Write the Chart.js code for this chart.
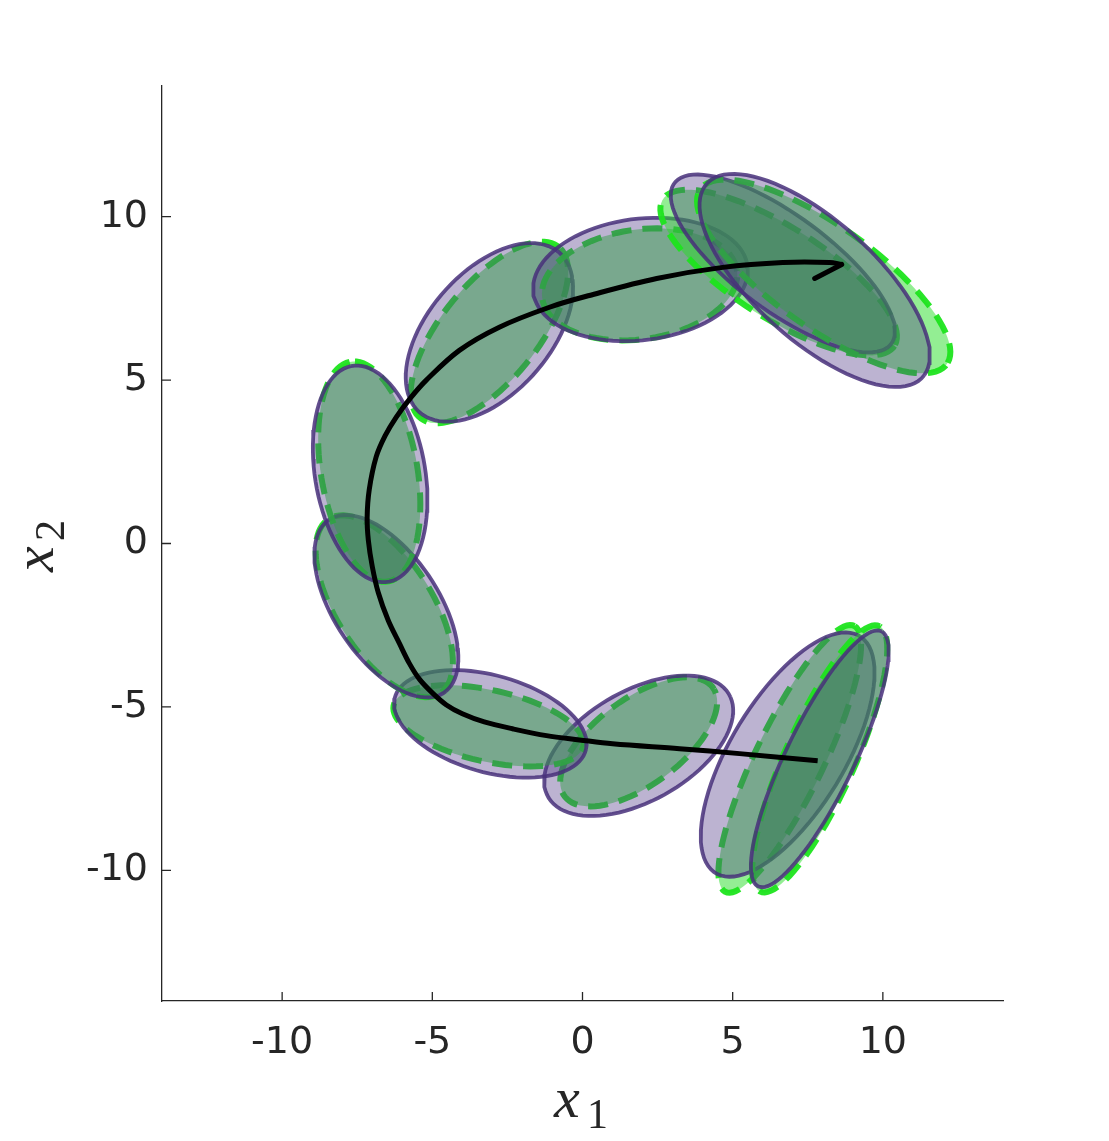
<!DOCTYPE html>
<html>
<head>
<meta charset="utf-8">
<script src="https://cdn.jsdelivr.net/npm/chart.js@4.4.1/dist/chart.umd.min.js"></script>
<style>
  html, body { margin: 0; padding: 0; background: #fff; }
  canvas { display: block; }
</style>
</head>
<body>
<canvas id="chart" width="1109" height="1141"></canvas>
<script>
// axes
const axisMin = -14;
const axisMax = 14;
const tickValues = [-10, -5, 0, 5, 10];

// purple ellipses: centre, semi axes, tilt of the long axis (deg)
const purpleCx = [6.83, 7.90, 1.87, -3.07, -6.53, -7.07, -3.10, 1.93, 6.67, 7.73];
const purpleCy = [-6.46, -6.59, -6.19, -5.52, -1.92, 2.13, 6.46, 8.08, 8.57, 8.05];
const purpleA = [4.35, 4.41, 3.40, 3.28, 3.27, 3.36, 3.38, 3.59, 4.37, 4.66];
const purpleB = [1.85, 1.12, 1.72, 1.49, 1.69, 1.83, 1.95, 1.86, 1.50, 1.90];
const purpleAng = [55.6, 62, 26, -13.8, -52.6, 101, 43.9, 6, -33.6, -38.5];

// green (dashed) ellipses
const greenCx = [6.90, 7.90, 1.87, -3.13, -6.60, -7.10, -3.10, 1.90, 6.53, 8.03];
const greenCy = [-6.59, -6.59, -6.07, -5.58, -1.92, 2.20, 6.46, 7.93, 8.29, 8.17];
const greenA = [4.60, 4.52, 2.98, 3.22, 3.25, 3.42, 3.49, 3.27, 4.46, 4.90];
const greenB = [1.12, 1.15, 1.36, 1.10, 1.55, 1.60, 1.55, 1.68, 1.43, 1.60];
const greenAng = [62, 63.8, 32.7, -11, -54, 101, 47.5, 7, -29.7, -32.6];

// black path, start bottom right, ends at the arrow
const pathX = [7.83, 5.23, 3.23, 1.00, -0.10, -1.20, -2.33, -3.27, -4.00, -4.53, -5.00, -5.43, -5.77, -6.10, -6.47, -6.80, -7.00, -7.13, -7.17, -7.10, -6.87, -6.57, -6.20, -5.73, -5.20, -4.10, -2.77, -1.10, 0.23, 2.47, 4.67, 6.67, 8.23, 8.63];
const pathY = [-6.65, -6.43, -6.28, -6.13, -6.01, -5.88, -5.67, -5.46, -5.21, -4.94, -4.57, -4.15, -3.66, -3.05, -2.35, -1.50, -0.70, 0.10, 0.80, 1.65, 2.65, 3.30, 3.87, 4.45, 5.00, 5.91, 6.62, 7.23, 7.59, 8.11, 8.45, 8.60, 8.60, 8.54];
const arrowX = [8.63, 7.73];
const arrowY = [8.54, 8.11];

function ellipsePoints(cx, cy, a, b, angDeg) {
    const th = angDeg * Math.PI / 180;
    const pts = [];
    for (let k = 0; k <= 90; k++) {
        const t = k * 2 * Math.PI / 90;
        const u = a * Math.cos(t);
        const v = b * Math.sin(t);
        pts.push({
            x: cx + u * Math.cos(th) - v * Math.sin(th),
            y: cy + u * Math.sin(th) + v * Math.cos(th)
        });
    }
    return pts;
}

const toPoints = (xs, ys) => xs.map((x, i) => ({x: x, y: ys[i]}));

const datasets = [];

// each green ellipse is drawn just before its purple partner, pair by pair
greenCx.forEach((cx, i) => {
    datasets.push({
        data: ellipsePoints(cx, greenCy[i], greenA[i], greenB[i], greenAng[i]),
        fill: 'shape',
        backgroundColor: 'rgba(40, 222, 40, 0.5)',
        borderColor: 'rgba(30, 228, 30, 0.95)',
        borderWidth: 6,
        borderDash: [20, 11],
        pointRadius: 0,
        tension: 0,
        order: 100 - 2 * i
    });
    datasets.push({
        data: ellipsePoints(purpleCx[i], purpleCy[i], purpleA[i], purpleB[i], purpleAng[i]),
        fill: 'shape',
        backgroundColor: 'rgba(80, 55, 135, 0.38)',
        borderColor: 'rgba(72, 48, 122, 0.85)',
        borderWidth: 3.8,
        pointRadius: 0,
        tension: 0,
        order: 99 - 2 * i
    });
});

datasets.push({
    data: toPoints(pathX, pathY),
    fill: false,
    borderColor: '#000',
    borderWidth: 5,
    pointRadius: 0,
    tension: 0.35,
    order: 1
});
datasets.push({
    data: toPoints(arrowX, arrowY),
    fill: false,
    borderColor: '#000',
    borderWidth: 5,
    pointRadius: 0,
    borderCapStyle: 'round',
    order: 1
});

// MATLAB style ticks pointing into the plot
const inwardTicks = {
    id: 'inwardTicks',
    afterDatasetsDraw(chart) {
        const {ctx, chartArea, scales} = chart;
        ctx.save();
        ctx.strokeStyle = '#262626';
        ctx.lineWidth = 1.3;
        ctx.beginPath();
        tickValues.forEach(v => {
            const px = scales.x.getPixelForValue(v);
            ctx.moveTo(px, chartArea.bottom);
            ctx.lineTo(px, chartArea.bottom - 9);
            const py = scales.y.getPixelForValue(v);
            ctx.moveTo(chartArea.left, py);
            ctx.lineTo(chartArea.left + 9, py);
        });
        ctx.stroke();
        ctx.restore();
    }
};

// x1 / x2 titles with subscripts
const axisTitles = {
    id: 'axisTitles',
    afterDraw(chart) {
        const ctx = chart.ctx;
        ctx.save();
        ctx.fillStyle = '#262626';
        ctx.textBaseline = 'alphabetic';
        ctx.textAlign = 'left';

        ctx.font = 'italic 58px "Liberation Serif"';
        ctx.fillText('x', 554, 1117);
        ctx.font = '42px "Liberation Serif"';
        ctx.fillText('1', 587, 1128);

        ctx.translate(53, 572);
        ctx.rotate(-Math.PI / 2);
        ctx.font = 'italic 58px "Liberation Serif"';
        ctx.fillText('x', 0, 0);
        ctx.font = '42px "Liberation Serif"';
        ctx.fillText('2', 31, 11);
        ctx.restore();
    }
};

const tickFont = {family: '"DejaVu Sans"', size: 38};

new Chart(document.getElementById('chart'), {
    type: 'line',
    data: {datasets: datasets},
    options: {
        responsive: false,
        animation: false,
        layout: {padding: {top: 86, right: 106, left: 0, bottom: 0}},
        plugins: {
            legend: {display: false},
            tooltip: {enabled: false}
        },
        scales: {
            x: {
                type: 'linear',
                min: axisMin,
                max: axisMax,
                afterBuildTicks: (scale) => { scale.ticks = tickValues.map(v => ({value: v})); },
                afterFit: (scale) => { scale.height = 140; },
                grid: {display: true, drawOnChartArea: false, drawTicks: false, color: 'rgba(0,0,0,0)'},
                border: {display: true, color: '#262626', width: 1.3},
                ticks: {color: '#262626', font: tickFont, padding: 19, maxRotation: 0}
            },
            y: {
                type: 'linear',
                min: axisMin,
                max: axisMax,
                afterBuildTicks: (scale) => { scale.ticks = tickValues.map(v => ({value: v})); },
                afterFit: (scale) => { scale.width = 162; },
                grid: {display: true, drawOnChartArea: false, drawTicks: false, color: 'rgba(0,0,0,0)'},
                border: {display: true, color: '#262626', width: 1.3},
                ticks: {color: '#262626', font: tickFont, padding: 14}
            }
        }
    },
    plugins: [inwardTicks, axisTitles]
});
</script>
</body>
</html>
